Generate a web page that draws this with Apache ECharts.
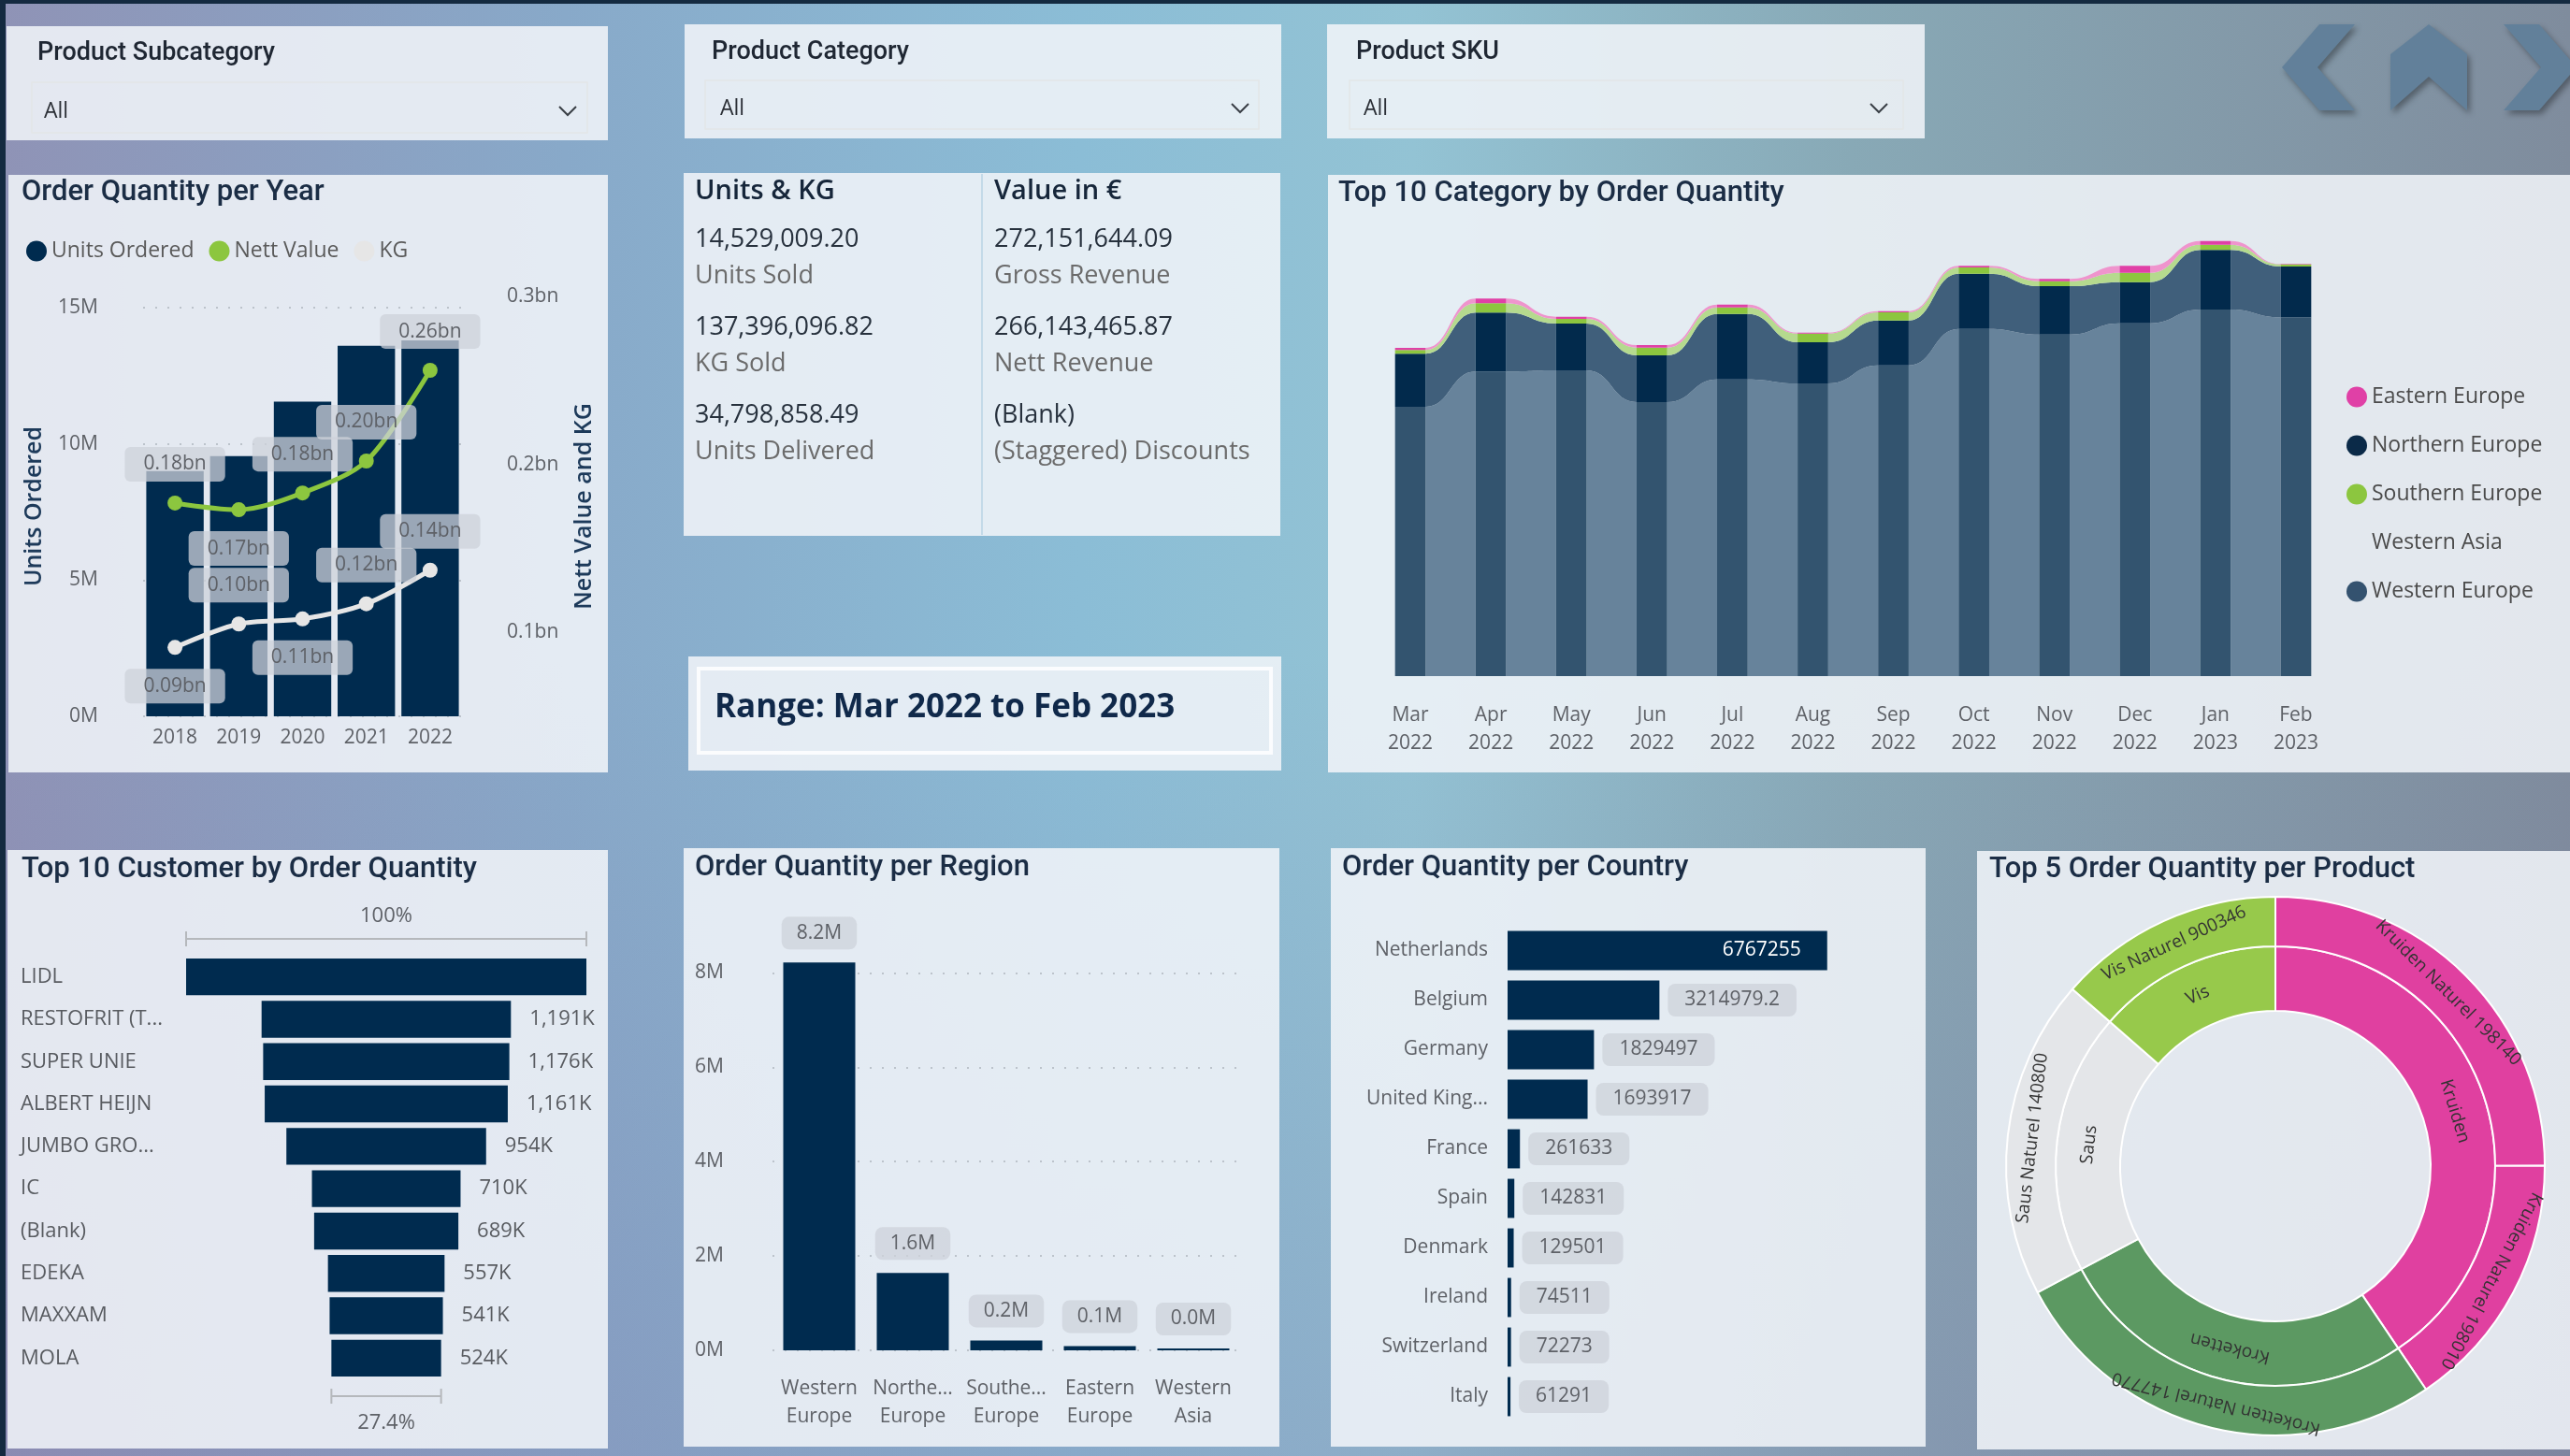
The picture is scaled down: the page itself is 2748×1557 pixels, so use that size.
<!DOCTYPE html>
<html>
<head>
<meta charset="utf-8">
<title>Order Quantity Dashboard</title>
<script src="https://cdn.jsdelivr.net/npm/echarts@6/dist/echarts.min.js"></script>
<style>
  html, body { margin: 0; padding: 0; }
  body {
    width: 2748px; height: 1557px; overflow: hidden;
    background:
      linear-gradient(180deg, rgba(128,118,168,0) 45%, rgba(128,118,168,0.28) 100%),
      linear-gradient(90deg, #8f93b6 0%, #88a9c9 22%, #8bbdd6 42%, #93c3d4 55%, #88a9b6 72%, #7f8c9d 100%);
  }
  #chart { width: 2748px; height: 1557px; }
</style>
</head>
<body>
<div id="chart"></div>
<script>
// ---------- data ----------
const years = ['2018', '2019', '2020', '2021', '2022'];
const unitsOrdered = [9.0e6, 9.55e6, 11.55e6, 13.6e6, 13.8e6];
const nettValue = [0.177e9, 0.173e9, 0.183e9, 0.202e9, 0.256e9];
const kgValue = [0.091e9, 0.105e9, 0.108e9, 0.117e9, 0.137e9];

const months = ['Mar 2022', 'Apr 2022', 'May 2022', 'Jun 2022', 'Jul 2022', 'Aug 2022',
  'Sep 2022', 'Oct 2022', 'Nov 2022', 'Dec 2022', 'Jan 2023', 'Feb 2023'];
// order quantity per month, thousands
const ribbonWE = [864, 977, 981, 879, 952, 939, 997, 1114, 1096, 1132, 1176, 1151];
const ribbonNE = [170, 189, 150, 150, 210, 132, 144, 177, 155, 132, 191, 163];
const ribbonSE = [12, 30, 15, 25, 21, 28, 26, 20, 16, 30, 17, 7];
const ribbonEE = [7, 15, 7, 8, 9, 3, 4, 5, 7, 22, 12, 1];
const ribbonWA = [0, 0, 0, 0, 0, 0, 0, 0, 0, 0, 0, 0];
const legendRegions = ['Eastern Europe', 'Northern Europe', 'Southern Europe', 'Western Asia', 'Western Europe'];

const customers = ['LIDL', 'RESTOFRIT (T...', 'SUPER UNIE', 'ALBERT HEIJN', 'JUMBO GRO...', 'IC', '(Blank)', 'EDEKA', 'MAXXAM', 'MOLA'];
const customerQty = [1912e3, 1191e3, 1176e3, 1161e3, 954e3, 710e3, 689e3, 557e3, 541e3, 524e3];

const regions = ['Western Europe', 'Northern Europe', 'Southern Europe', 'Eastern Europe', 'Western Asia'];
const regionQty = [8.22e6, 1.64e6, 0.21e6, 0.09e6, 0.04e6];

const countries = ['Netherlands', 'Belgium', 'Germany', 'United Kingdom', 'France', 'Spain', 'Denmark', 'Ireland', 'Switzerland', 'Italy'];
const countryQty = [6767255, 3214979.2, 1829497, 1693917, 261633, 142831, 129501, 74511, 72273, 61291];

const productCats = ['Kruiden', 'Kroketten', 'Saus', 'Vis'];
const productNames = [['Kruiden Naturel 198140', 'Kruiden Naturel 198010'], ['Kroketten Naturel 147770'], ['Saus Naturel 140800'], ['Vis Naturel 900346']];
const productQty = [[250, 156], [267], [192], [136]];

const kpiLeft = [['Units & KG'], ['14,529,009.20', 'Units Sold'], ['137,396,096.82', 'KG Sold'], ['34,798,858.49', 'Units Delivered']];
const kpiRight = [['Value in €'], ['272,151,644.09', 'Gross Revenue'], ['266,143,465.87', 'Nett Revenue'], ['(Blank)', '(Staggered) Discounts']];
const rangeText = 'Range: Mar 2022 to Feb 2023';
const slicers = ['Product Subcategory', 'Product Category', 'Product SKU'];

// ---------- styles ----------
const NAVY = '#002b4f';
const GREY_TXT = '#5e6167';
const LBL_BG = 'rgba(205,210,217,0.75)';
const DOTS = {type: [2, 11], width: 2, color: '#bcc3cb'};
const nettLabelPos = ['top', 'bottom', 'top', 'top', 'top'];
const kgLabelPos = ['bottom', 'top', 'bottom', 'top', 'top'];

const chart = echarts.init(document.getElementById('chart'));

// ---------- graphic: panels, texts ----------
const graphic = [];
graphic.push({type: 'rect', shape: {x: 0, y: 0, width: 2748, height: 4}, style: {fill: '#142a40'}});
graphic.push({type: 'rect', shape: {x: 0, y: 0, width: 6, height: 1557}, style: {fill: '#142a40'}});

const panels = [
  [7, 28, 643, 122], [732, 26, 638, 122], [1419, 26, 639, 122],
  [9, 187, 641, 639], [731, 185, 638, 388], [736, 702, 634, 122], [1420, 187, 1328, 639],
  [8, 909, 642, 640], [731, 907, 637, 640], [1423, 907, 636, 640], [2114, 910, 634, 640]
];
panels.forEach(p => graphic.push({
  type: 'rect', z: -1,
  shape: {x: p[0], y: p[1], width: p[2], height: p[3]},
  style: {fill: 'rgba(240,244,248,0.88)'}
}));

function text(str, x, y, size, color, weight, family, align) {
  return {
    type: 'text', x, y, z: 10,
    style: {
      text: str, fontSize: size, fill: color, fontWeight: weight || 400,
      fontFamily: family || '"Open Sans"', align: align || 'left', verticalAlign: 'middle'
    }
  };
}

// titles
[['Order Quantity per Year', 23, 206], ['Top 10 Category by Order Quantity', 1431, 207],
 ['Top 10 Customer by Order Quantity', 23, 930], ['Order Quantity per Region', 743, 928],
 ['Order Quantity per Country', 1435, 928], ['Top 5 Order Quantity per Product', 2127, 930]]
  .forEach(t => graphic.push(text(t[0], t[1], t[2], 31, '#1b2d45', 500, 'Roboto')));

// slicers
const slicerGeo = [[40, 57, 34, 88, 594, 54, 47, 607], [761, 56, 754, 86, 592, 52, 770, 1326], [1450, 56, 1443, 86, 592, 52, 1458, 2009]];
slicers.forEach((s, i) => {
  const g = slicerGeo[i];
  graphic.push(text(s, g[0], g[1], 27, '#1f2733', 500, 'Roboto'));
  graphic.push({type: 'rect', shape: {x: g[2], y: g[3], width: g[4], height: g[5]}, style: {fill: 'none', stroke: '#e4e6e8', lineWidth: 1.5}});
  const cy = g[3] + g[5] / 2 + 4;
  graphic.push(text('All', g[6], cy, 23, '#2b2f36'));
  graphic.push({type: 'polyline', shape: {points: [[g[7] - 9, cy - 5], [g[7], cy + 4], [g[7] + 9, cy - 5]]}, style: {stroke: '#3a3f46', lineWidth: 2, fill: 'none'}});
});

// navigation icons
const navStyle = {fill: '#62809a', shadowBlur: 6, shadowColor: 'rgba(0,0,0,0.35)', shadowOffsetX: 3, shadowOffsetY: 4};
graphic.push({type: 'polygon', shape: {points: [[2480, 26], [2518, 26], [2478, 72], [2518, 118], [2480, 118], [2440, 72]]}, style: navStyle});
graphic.push({type: 'polygon', shape: {points: [[2556, 118], [2556, 58], [2597, 26], [2638, 58], [2638, 118], [2597, 82]]}, style: navStyle});
graphic.push({type: 'polygon', shape: {points: [[2677, 26], [2715, 26], [2755, 72], [2715, 118], [2677, 118], [2717, 72]]}, style: navStyle});

// KPI card
graphic.push({type: 'line', shape: {x1: 1050, y1: 186, x2: 1050, y2: 572}, style: {stroke: '#b9d3e3', lineWidth: 1.5}});
[[kpiLeft, 743], [kpiRight, 1063]].forEach(([col, x]) => {
  graphic.push(text(col[0][0], x, 205, 29, '#16263a', 600));
  col.slice(1).forEach((row, k) => {
    graphic.push(text(row[0], x, 256 + k * 94, 27, '#27313d'));
    graphic.push(text(row[1], x, 295 + k * 94, 27, '#6b6b6b'));
  });
});
graphic.push({type: 'rect', shape: {x: 747, y: 715, width: 612, height: 90}, style: {fill: 'none', stroke: 'rgba(255,255,255,0.85)', lineWidth: 4}});
graphic.push(text(rangeText, 764, 757, 35, '#10294a', 700));

// ---------- ribbon series ----------
const ribbonLayers = [
  {name: 'Western Europe', values: ribbonWE, bar: '#33546f', ribbon: '#67839b', legend: '#34526f'},
  {name: 'Northern Europe', values: ribbonNE, bar: '#022a4c', ribbon: '#405f7b', legend: '#0b2a48'},
  {name: 'Southern Europe', values: ribbonSE, bar: '#8cc63f', ribbon: '#b5da8e', legend: '#8cc63f'},
  {name: 'Eastern Europe', values: ribbonEE, bar: '#e040a6', ribbon: '#ef94cd', legend: '#e040a6'},
  {name: 'Western Asia', values: ribbonWA, bar: '#e6eaee', ribbon: '#e6eaee', legend: 'rgba(0,0,0,0)'}
];
let stackBase = months.map(() => 0);
const ribbonSeries = ribbonLayers.map(layer => {
  const lo = stackBase.slice();
  const hi = stackBase.map((b, i) => b + layer.values[i]);
  stackBase = hi;
  const empty = layer.values.every(v => v === 0);
  return {
    type: 'custom', name: layer.name, xAxisIndex: 4, yAxisIndex: 5,
    itemStyle: {color: layer.legend},
    encode: {x: 0, y: [1, 2]},
    data: months.map((m, i) => [i, lo[i], hi[i]]),
    renderItem(params, api) {
      if (empty) return {type: 'group', children: []};
      const i = api.value(0);
      const p0 = api.coord([i, api.value(1)]);
      const p1 = api.coord([i, api.value(2)]);
      const bw = api.size([1, 0])[0] * 0.38;
      const children = [];
      if (i < months.length - 1) {
        const q0 = api.coord([i + 1, lo[i + 1]]);
        const q1 = api.coord([i + 1, hi[i + 1]]);
        const x1 = p0[0] + bw / 2, x2 = q0[0] - bw / 2, xm = (x1 + x2) / 2;
        children.push({
          type: 'path',
          shape: {pathData: `M${x1} ${p1[1]} C${xm} ${p1[1]} ${xm} ${q1[1]} ${x2} ${q1[1]} L${x2} ${q0[1]} C${xm} ${q0[1]} ${xm} ${p0[1]} ${x1} ${p0[1]} Z`},
          style: {fill: layer.ribbon}
        });
      }
      children.push({
        type: 'rect',
        shape: {x: p0[0] - bw / 2, y: p1[1], width: bw, height: p0[1] - p1[1]},
        style: {fill: layer.bar}
      });
      return {type: 'group', children};
    }
  };
});

// ---------- sunburst ----------
const catColors = ['#e040a0', '#5c9962', '#e4e6e9', '#97c94b'];
const productTotal = productQty.flat().reduce((s, v) => s + v, 0);
let angAcc = 0;
const sunburstData = productCats.map((cat, ci) => {
  const catStart = angAcc;
  const catTotal = productQty[ci].reduce((s, v) => s + v, 0);
  const children = productNames[ci].map((nm, pi) => {
    const v = productQty[ci][pi];
    const mid = (angAcc + v / 2) / productTotal * 360;
    angAcc += v;
    return {name: nm, value: v, itemStyle: {color: catColors[ci]}, label: {rotate: -mid}};
  });
  const catMid = (catStart + catTotal / 2) / productTotal * 360;
  return {name: cat, itemStyle: {color: catColors[ci]}, label: {rotate: -catMid}, children};
});

// ---------- option ----------
const axisLbl = {color: GREY_TXT, fontSize: 21, fontFamily: '"Open Sans"'};

const option = {
  animation: false,
  textStyle: {fontFamily: '"Open Sans"'},
  legend: [
    {
      data: ['Units Ordered', 'Nett Value', 'KG'],
      left: 23, top: 252, icon: 'circle', itemWidth: 22, itemHeight: 22, itemGap: 16,
      textStyle: {color: '#5a5a5a', fontSize: 23}
    },
    {
      data: legendRegions, orient: 'vertical',
      left: 2504, top: 408, icon: 'circle', itemWidth: 22, itemHeight: 22, itemGap: 29,
      textStyle: {color: '#4a4a4a', fontSize: 23}
    }
  ],
  grid: [
    {left: 153, top: 317, width: 341, height: 449},
    {left: 199, top: 1022, width: 428, height: 453},
    {left: 826, top: 990, width: 500, height: 454},
    {left: 1612, top: 990, width: 404, height: 530},
    {left: 1465, top: 243, width: 1033, height: 480}
  ],
  xAxis: [
    {gridIndex: 0, type: 'category', data: years, axisLine: {show: false}, axisTick: {show: false},
     axisLabel: Object.assign({margin: 13}, axisLbl)},
    {gridIndex: 1, type: 'value', min: 0, max: customerQty[0], show: false},
    {gridIndex: 2, type: 'category', data: regions, axisLine: {show: false}, axisTick: {show: false},
     axisLabel: Object.assign({margin: 26, lineHeight: 30, interval: 0,
       formatter: v => v.split(' ').map((w, k) => k === 0 && w.length > 7 ? w.slice(0, 6) + '...' : w).join('\n')}, axisLbl)},
    {gridIndex: 3, type: 'value', min: 0, max: 8e6, show: false},
    {gridIndex: 4, type: 'category', data: months, axisLine: {show: false}, axisTick: {show: false},
     axisLabel: Object.assign({margin: 27, lineHeight: 30, interval: 0, formatter: v => v.replace(' ', '\n')}, axisLbl)}
  ],
  yAxis: [
    {gridIndex: 0, type: 'value', min: 0, max: 15.41e6, interval: 5e6,
     name: 'Units Ordered', nameLocation: 'middle', nameRotate: 90, nameGap: 104,
     nameTextStyle: {color: '#1d3a5a', fontSize: 25, fontWeight: 600},
     axisLabel: Object.assign({margin: 48, showMaxLabel: false, formatter: v => (v / 1e6) + 'M'}, axisLbl),
     splitLine: {show: true, showMaxLine: false, lineStyle: DOTS}},
    {gridIndex: 0, type: 'value', min: 0.05e9, max: 0.3e9, interval: 0.05e9, position: 'right',
     name: 'Nett Value and KG', nameLocation: 'middle', nameRotate: 90, nameGap: 118,
     nameTextStyle: {color: '#1d3a5a', fontSize: 25, fontWeight: 600},
     axisLabel: Object.assign({margin: 48,
       formatter: v => Math.abs(v / 1e8 - Math.round(v / 1e8)) < 1e-6 ? (v / 1e9).toFixed(1) + 'bn' : ''}, axisLbl),
     splitLine: {show: false}},
    {gridIndex: 1, type: 'category', data: customers, inverse: true,
     axisLine: {show: false}, axisTick: {show: false},
     axisLabel: {margin: 177, align: 'left', color: '#585b60', fontSize: 22}},
    {gridIndex: 2, type: 'value', min: 0, max: 9e6, interval: 2e6,
     axisLabel: Object.assign({margin: 52, showMaxLabel: false, formatter: v => (v / 1e6) + 'M'}, axisLbl),
     splitLine: {show: true, showMaxLine: false, lineStyle: DOTS}},
    {gridIndex: 3, type: 'category', data: countries, inverse: true,
     axisLine: {show: false}, axisTick: {show: false},
     axisLabel: Object.assign({margin: 21, formatter: v => v.length > 12 ? v.slice(0, 11) + '...' : v}, axisLbl)},
    {gridIndex: 4, type: 'value', min: 0, max: 1440, show: false}
  ],
  series: [
    {
      type: 'bar', name: 'Units Ordered', xAxisIndex: 0, yAxisIndex: 0,
      data: unitsOrdered, barCategoryGap: '10%', itemStyle: {color: NAVY}
    },
    {
      type: 'line', name: 'Nett Value', xAxisIndex: 0, yAxisIndex: 1, smooth: 0.3,
      data: nettValue.map((v, i) => ({value: v, label: {position: nettLabelPos[i]}})),
      symbol: 'circle', symbolSize: 16, lineStyle: {width: 5, color: '#8cc63f'}, itemStyle: {color: '#8cc63f'},
      label: {show: true, distance: 15, formatter: p => (p.value / 1e9).toFixed(2) + 'bn',
        color: GREY_TXT, fontSize: 21, backgroundColor: LBL_BG, padding: [8, 20], borderRadius: 6}
    },
    {
      type: 'line', name: 'KG', xAxisIndex: 0, yAxisIndex: 1, smooth: 0.3,
      data: kgValue.map((v, i) => ({value: v, label: {position: kgLabelPos[i]}})),
      symbol: 'circle', symbolSize: 16, lineStyle: {width: 5, color: '#e6e6e6'}, itemStyle: {color: '#e6e6e6'},
      label: {show: true, distance: 15, formatter: p => (p.value / 1e9).toFixed(2) + 'bn',
        color: GREY_TXT, fontSize: 21, backgroundColor: LBL_BG, padding: [8, 20], borderRadius: 6}
    },
    {
      type: 'bar', name: 'funnelPad', xAxisIndex: 1, yAxisIndex: 2, stack: 'funnel',
      data: customerQty.map(v => (customerQty[0] - v) / 2), itemStyle: {color: 'rgba(0,0,0,0)'},
      barCategoryGap: '13%', silent: true
    },
    {
      type: 'bar', name: 'Customer Qty', xAxisIndex: 1, yAxisIndex: 2, stack: 'funnel',
      data: customerQty, itemStyle: {color: NAVY}, barCategoryGap: '13%',
      label: {show: true, position: 'right', distance: 20, color: '#585b60', fontSize: 22,
        formatter: p => p.dataIndex === 0 ? '' : Math.round(p.value / 1000).toLocaleString('en-US') + 'K'}
    },
    {
      type: 'bar', name: 'Region Qty', xAxisIndex: 2, yAxisIndex: 3,
      data: regionQty, itemStyle: {color: NAVY}, barCategoryGap: '23%',
      label: {show: true, position: 'top', distance: 14, color: GREY_TXT, fontSize: 21,
        backgroundColor: LBL_BG, padding: [7, 16], borderRadius: 8,
        formatter: p => (p.value / 1e6).toFixed(1) + 'M'}
    },
    {
      type: 'bar', name: 'Country Qty', xAxisIndex: 3, yAxisIndex: 4,
      data: countryQty.map((v, i) => i === 0
        ? {value: v, label: {position: 'insideRight', distance: 28, color: '#ffffff', backgroundColor: 'transparent', padding: 0}}
        : v),
      itemStyle: {color: NAVY}, barCategoryGap: '21%',
      label: {show: true, position: 'right', distance: 9, color: GREY_TXT, fontSize: 21,
        backgroundColor: LBL_BG, padding: [7, 18], borderRadius: 8, formatter: p => String(p.value)}
    },
    ...ribbonSeries,
    {
      type: 'sunburst', center: [2433, 1247], radius: [166, 288], sort: null,
      data: sunburstData, nodeClick: false,
      emphasis: {disabled: true},
      itemStyle: {borderColor: '#ffffff', borderWidth: 2},
      label: {color: '#333', fontSize: 19, fontFamily: '"Open Sans"'},
      levels: [{}, {r0: 166, r: 235}, {r0: 235, r: 288}]
    }
  ],
  graphic: graphic
};

chart.setOption(option);

// funnel brackets, placed from the funnel axes
const fc = {xAxisIndex: 1, yAxisIndex: 2};
const last = customerQty.length - 1;
const c0 = chart.convertToPixel(fc, [0, 0]);
const c1 = chart.convertToPixel(fc, [0, 1]);
const cN = chart.convertToPixel(fc, [0, last]);
const half = (c1[1] - c0[1]) * 0.87 / 2;
const topL = chart.convertToPixel(fc, [0, 0])[0];
const topR = chart.convertToPixel(fc, [customerQty[0], 0])[0];
const botL = chart.convertToPixel(fc, [(customerQty[0] - customerQty[last]) / 2, last])[0];
const botR = chart.convertToPixel(fc, [(customerQty[0] + customerQty[last]) / 2, last])[0];
const yT = c0[1] - half - 21, yB = cN[1] + half + 21;
const bracketStyle = {stroke: '#b5b8bc', lineWidth: 2};
[[topL, topR, yT], [botL, botR, yB]].forEach(([l, r, y]) => {
  graphic.push({type: 'line', shape: {x1: l, y1: y, x2: r, y2: y}, style: bracketStyle});
  graphic.push({type: 'line', shape: {x1: l, y1: y - 8, x2: l, y2: y + 8}, style: bracketStyle});
  graphic.push({type: 'line', shape: {x1: r, y1: y - 8, x2: r, y2: y + 8}, style: bracketStyle});
});
graphic.push(text('100%', (topL + topR) / 2, yT - 24, 22, GREY_TXT, 400, null, 'center'));
graphic.push(text((customerQty[last] / customerQty[0] * 100).toFixed(1) + '%', (botL + botR) / 2, yB + 29, 22, GREY_TXT, 400, null, 'center'));

option.graphic = graphic;
chart.setOption(option, true);
</script>
</body>
</html>
